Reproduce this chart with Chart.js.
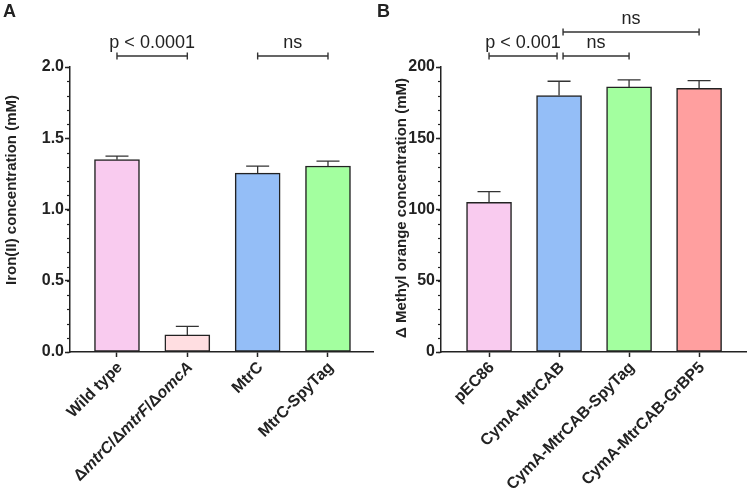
<!DOCTYPE html>
<html>
<head>
<meta charset="utf-8">
<script src="https://cdn.jsdelivr.net/npm/chart.js@4"></script>
<style>
  body { margin: 0; background: #fff; }
  canvas { position: absolute; top: 0; }
  #chartA { left: 0; }
  #chartB { left: 374px; }
</style>
</head>
<body>
<canvas id="chartA" width="374" height="493"></canvas>
<canvas id="chartB" width="374" height="493"></canvas>
<script>
'use strict';

// --- panel A data ---
var catsA = ['Wild type', 'Δ*mtrC*/Δ*mtrF*/Δ*omcA*', 'MtrC', 'MtrC-SpyTag']; // *...* = italic
var valsA = [1.35, 0.12, 1.255, 1.305];
var errA = [0.025, 0.06, 0.05, 0.035];
var ticksA = [0, 0.5, 1.0, 1.5, 2.0];
var bracketsA = [[0, 1, 'p < 0.0001', 0], [2, 3, 'ns', 0]]; // from, to, text, level

// --- panel B data ---
var catsB = ['pEC86', 'CymA-MtrCAB', 'CymA-MtrCAB-SpyTag', 'CymA-MtrCAB-GrBP5'];
var valsB = [105, 180, 186, 185];
var errB = [7.5, 10, 5, 5.5];
var ticksB = [0, 50, 100, 150, 200];
var bracketsB = [[0, 1, 'p < 0.001', 0], [1, 2, 'ns', 0], [1, 3, 'ns', 1]];

var colorsA = ['#F9CBEF', '#FFDEE1', '#94BEF7', '#A3FF9F'];
var colorsB = ['#F9CBEF', '#94BEF7', '#A3FF9F', '#FF9F9F'];

var INK = '#222';
var FONT = '"Liberation Sans", Arial, sans-serif';

function drawRich(ctx, text, x, y) {
    // right aligned text, *...* parts in italic
    var parts = text.split('*');
    var w = 0;
    parts.forEach(function(p, i) {
        ctx.font = (i % 2 ? 'italic ' : '') + 'bold 16px ' + FONT;
        w += ctx.measureText(p).width;
    });
    var cx = x - w;
    parts.forEach(function(p, i) {
        ctx.font = (i % 2 ? 'italic ' : '') + 'bold 16px ' + FONT;
        ctx.fillText(p, cx, y);
        cx += ctx.measureText(p).width;
    });
}

function makePanel(id, cats, vals, errs, colors, yTicks, minorStep, xMin, xMax, axisW, rightPad, brackets, title, titleX, titleY, letter, dec) {
    var extras = {
        id: 'extras',
        afterDatasetsDraw: function(chart) {
            var ctx = chart.ctx;
            var x = chart.scales.x, y = chart.scales.y;
            ctx.save();
            ctx.strokeStyle = '#333';
            ctx.lineWidth = 1.3;
            // error bars (upper whisker only)
            vals.forEach(function(v, i) {
                var px = x.getPixelForValue(i);
                var top = y.getPixelForValue(v + errs[i]);
                ctx.beginPath();
                ctx.moveTo(px, y.getPixelForValue(v));
                ctx.lineTo(px, top);
                ctx.moveTo(px - 11.5, top);
                ctx.lineTo(px + 11.5, top);
                ctx.stroke();
            });
            ctx.restore();
        },
        afterDraw: function(chart) {
            var ctx = chart.ctx;
            var x = chart.scales.x, y = chart.scales.y;
            var area = chart.chartArea;
            ctx.save();
            // minor ticks on y axis
            ctx.strokeStyle = INK;
            ctx.lineWidth = 1.2;
            var maxV = yTicks[yTicks.length - 1];
            for (var k = 0; k * minorStep <= maxV + 1e-9; k++) {
                var py = Math.round(y.getPixelForValue(k * minorStep)) + 0.5;
                ctx.beginPath();
                ctx.moveTo(area.left - 3, py);
                ctx.lineTo(area.left, py);
                ctx.stroke();
            }
            // x category labels, rotated 45deg
            ctx.fillStyle = INK;
            ctx.textBaseline = 'middle';
            cats.forEach(function(c, i) {
                ctx.save();
                ctx.translate(x.getPixelForValue(i) + 3, area.bottom + 13);
                ctx.rotate(-Math.PI / 4);
                drawRich(ctx, c, 0, 0);
                ctx.restore();
            });
            // y axis title
            ctx.save();
            ctx.translate(titleX, titleY);
            ctx.rotate(-Math.PI / 2);
            ctx.font = 'bold 15px ' + FONT;
            ctx.textAlign = 'center';
            ctx.fillText(title, 0, 0);
            ctx.restore();
            // panel letter
            ctx.font = 'bold 18px ' + FONT;
            ctx.textAlign = 'left';
            ctx.textBaseline = 'alphabetic';
            ctx.fillText(letter, 3, 17);
            // significance brackets
            ctx.strokeStyle = '#333';
            ctx.lineWidth = 1.4;
            ctx.font = '18px ' + FONT;
            ctx.textAlign = 'center';
            brackets.forEach(function(b) {
                var sharedStart = brackets.some(function(o) { return o[1] === b[0]; });
                var sharedEnd = brackets.some(function(o) { return o[0] === b[1]; });
                var x1 = x.getPixelForValue(b[0]) + (sharedStart ? 4 : 0);
                var x2 = x.getPixelForValue(b[1]) + (sharedEnd ? -2 : 0);
                var by = area.top - 11 - b[3] * 24;
                ctx.beginPath();
                ctx.moveTo(x1, by); ctx.lineTo(x2, by);
                ctx.moveTo(x1, by - 3.5); ctx.lineTo(x1, by + 3.5);
                ctx.moveTo(x2, by - 3.5); ctx.lineTo(x2, by + 3.5);
                ctx.stroke();
                ctx.fillText(b[2], (x1 + x2) / 2, by - 8);
            });
            ctx.restore();
        }
    };

    return new Chart(document.getElementById(id), {
        type: 'bar',
        data: {
            datasets: [{
                data: vals.map(function(v, i) { return {x: i, y: v}; }),
                backgroundColor: colors,
                borderColor: INK,
                borderWidth: 1.5,
                borderSkipped: false,
                barThickness: 45
            }]
        },
        options: {
            responsive: false,
            animation: false,
            events: [],
            layout: { padding: { left: 0, top: 67, right: rightPad, bottom: 0 } },
            plugins: { legend: { display: false }, tooltip: { enabled: false } },
            scales: {
                x: {
                    type: 'linear',
                    min: xMin,
                    max: xMax,
                    offset: false,
                    afterBuildTicks: function(s) {
                        s.ticks = cats.map(function(c, i) { return {value: i}; });
                    },
                    afterFit: function(s) { s.height = 141; },
                    ticks: { display: false },
                    grid: { offset: false, drawOnChartArea: false, tickLength: 5, tickColor: INK, tickWidth: 1.5 },
                    border: { color: INK, width: 1.5 }
                },
                y: {
                    min: yTicks[0],
                    max: yTicks[yTicks.length - 1],
                    afterBuildTicks: function(s) {
                        s.ticks = yTicks.map(function(v) { return {value: v}; });
                    },
                    afterFit: function(s) { s.width = axisW; },
                    ticks: {
                        padding: 1,
                        color: INK,
                        font: { family: FONT, size: 16, weight: 'bold' },
                        callback: function(v) { return v.toFixed(dec); }
                    },
                    grid: { drawOnChartArea: false, tickLength: 5, tickColor: INK, tickWidth: 1.5 },
                    border: { color: INK, width: 1.5 }
                }
            }
        },
        plugins: [extras]
    });
}

makePanel('chartA', catsA, valsA, errA, colorsA, ticksA, 0.1, -0.668, 3.64, 70, 1,
    bracketsA, 'Iron(II) concentration (mM)', 12, 190, 'A', 1);
makePanel('chartB', catsB, valsB, errB, colorsB, ticksB, 10, -0.686, 3.67, 67, 2,
    bracketsB, 'Δ Methyl orange concentration (mM)', 28, 208, 'B', 0);
</script>
</body>
</html>
